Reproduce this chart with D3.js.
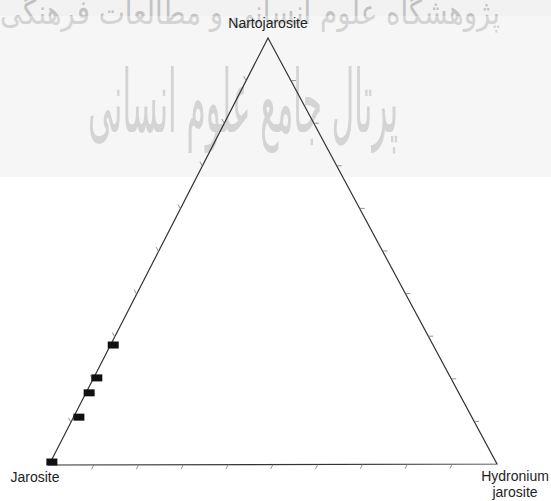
<!DOCTYPE html>
<html>
<head>
<meta charset="utf-8">
<script src="https://cdn.jsdelivr.net/npm/d3@7"></script>
<style>
  html, body { margin: 0; padding: 0; background: #fff; }
  svg { display: block; }
</style>
</head>
<body>
<div id="chart"></div>
<script>
// composition data (percent): jarosite / natrojarosite / hydronium jarosite
var jarosite      = [71.3, 78.9, 82.4, 87.6, 99.0];
var natrojarosite = [28.1, 20.4, 16.9, 11.2, 0.7];
var hydronium     = [0.6, 0.7, 0.7, 1.2, 0.3];

var tickValues = [10, 20, 30, 40, 50, 60, 70, 80, 90];
var apexLabels = ["Jarosite", "Nartojarosite", "Hydronium", "jarosite"];
var watermark = ["پژوهشگاه علوم انسانی و مطالعات فرهنگی", "پرتال جامع علوم انسانی"];

function drawTernary() {
  d3.select("#chart").select("svg").remove();

  var width = 551, height = 501;

  var svg = d3.select("#chart")
    .append("svg")
      .attr("width", width)
      .attr("height", height);

  // faint watermark band at the top
  svg.append("rect")
    .attr("x", 0).attr("y", 0)
    .attr("width", width).attr("height", 177)
    .attr("fill", "#f2f2f2");

  svg.append("text")
    .attr("x", 250).attr("y", 24)
    .attr("text-anchor", "middle")
    .attr("textLength", 500)
    .attr("lengthAdjust", "spacingAndGlyphs")
    .style("font-family", "'DejaVu Sans', sans-serif")
    .style("font-size", "34px")
    .style("fill", "#c2c2c2")
    .text(watermark[0]);

  svg.append("text")
    .attr("text-anchor", "middle")
    .attr("transform", "translate(243,132) scale(1,1.45)")
    .attr("textLength", 310)
    .attr("lengthAdjust", "spacingAndGlyphs")
    .style("font-family", "'DejaVu Sans', sans-serif")
    .style("font-size", "60px")
    .style("fill", "#c2c2c2")
    .text(watermark[1]);

  // lighter wash below the top strip
  svg.append("rect")
    .attr("x", 0).attr("y", 16)
    .attr("width", width).attr("height", 161)
    .attr("fill", "#fff")
    .attr("fill-opacity", 0.3);

  // triangle corners
  var J = [49, 465],   // Jarosite
      N = [268, 38],   // Natrojarosite
      H = [497, 464];  // Hydronium jarosite

  var t = d3.scaleLinear().domain([0, 100]).range([0, 1]);

  function project(a, b, c) {
    var s = a + b + c;
    var fa = t(a * 100 / s), fb = t(b * 100 / s), fc = t(c * 100 / s);
    return [
      fa * J[0] + fb * N[0] + fc * H[0],
      fa * J[1] + fb * N[1] + fc * H[1]
    ];
  }

  var line = d3.line();

  svg.append("path")
    .attr("d", line([J, N, H]) + "Z")
    .attr("fill", "none")
    .attr("stroke", "#333")
    .attr("stroke-width", 1.2);

  // tick marks, each edge points along the next edge direction
  function unit(p, q) {
    var dx = q[0] - p[0], dy = q[1] - p[1], l = Math.sqrt(dx * dx + dy * dy);
    return [dx / l, dy / l];
  }
  var len = 5;
  var edges = [
    { pos: function(v) { return project(100 - v, 0, v); }, dir: unit(N, J) },   // bottom
    { pos: function(v) { return project(100 - v, v, 0); }, dir: unit(H, N) },   // left
    { pos: function(v) { return project(0, 100 - v, v); }, dir: unit(J, H) }    // right
  ];
  var tickG = svg.append("g");
  edges.forEach(function(e) {
    tickG.selectAll(null)
      .data(tickValues)
      .enter()
      .append("line")
        .attr("x1", function(d) { return e.pos(d)[0]; })
        .attr("y1", function(d) { return e.pos(d)[1]; })
        .attr("x2", function(d) { return e.pos(d)[0] + e.dir[0] * len; })
        .attr("y2", function(d) { return e.pos(d)[1] + e.dir[1] * len; })
        .attr("stroke", "#777")
        .attr("stroke-width", 0.8);
  });

  // samples
  var data = jarosite.map(function(d, i) {
    return { a: d, b: natrojarosite[i], c: hydronium[i] };
  });
  svg.append("g")
    .selectAll("rect")
    .data(data)
    .enter()
    .append("rect")
      .attr("x", function(d) { return project(d.a, d.b, d.c)[0] - 5.5; })
      .attr("y", function(d) { return project(d.a, d.b, d.c)[1] - 3.5; })
      .attr("width", 11)
      .attr("height", 7)
      .attr("fill", "#111");

  // corner labels
  var font = "'Liberation Sans', Arial, sans-serif";
  var labels = [
    { text: apexLabels[0], x: J[0] - 14, y: 482 },
    { text: apexLabels[1], x: N[0],      y: 28 },
    { text: apexLabels[2], x: H[0] + 18, y: 481 },
    { text: apexLabels[3], x: H[0] + 18, y: 497 }
  ];
  svg.append("g")
    .selectAll("text")
    .data(labels)
    .enter()
    .append("text")
      .attr("x", function(d) { return d.x; })
      .attr("y", function(d) { return d.y; })
      .attr("text-anchor", "middle")
      .style("font-family", font)
      .style("font-size", "14px")
      .style("fill", "#1e1e1e")
      .text(function(d) { return d.text; });
}

document.addEventListener("DOMContentLoaded", function() {
  drawTernary();
});
</script>
</body>
</html>
